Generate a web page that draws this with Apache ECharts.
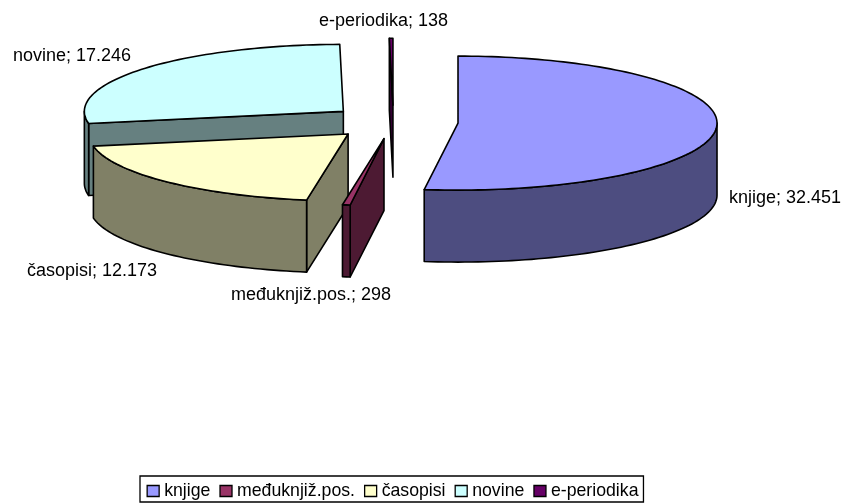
<!DOCTYPE html>
<html>
<head>
<meta charset="utf-8">
<style>html,body{margin:0;padding:0;background:#fff}#c{width:845px;height:503px}</style>
<script src="https://cdn.jsdelivr.net/npm/echarts@6/dist/echarts.min.js"></script>
</head>
<body>
<div id="c"></div>
<script>
// data
const categories = ['knjige', 'međuknjiž.pos.', 'časopisi', 'novine', 'e-periodika'];
const values = [32451, 298, 12173, 17246, 138];
// styles
const topColors = ['#9999FF', '#993366', '#FFFFCC', '#CCFFFF', '#660066'];
const sideColors = ['#4D4D80', '#4D1A33', '#808066', '#668080', '#330033'];
const paintOrder = [2, 4, 3, 0, 1]; // z rank per slice (back to front)
// layout
const CX = 393.4, CY = 122, RX = 259, RY = 67, DEPTH = 72, EXPLODE = 0.25;
const labelPos = [[729, 198], [231, 295], [27, 271], [13, 56], [319, 21]];
const FONT = '"Liberation Sans", Arial, sans-serif';
const FS = 18;
const LEGEND_FS = 17.7;

const total = values.reduce((a, b) => a + b, 0);
const fmt = v => String(v).replace(/\B(?=(\d{3})+$)/g, '.');
const rad = d => d * Math.PI / 180;

let acc = 0;
const slices = values.map(v => {
  const s = acc / total * 360; acc += v;
  return { s, e: acc / total * 360 };
});

function pt(ax, ay, deg, dy) {
  return [ax + RX * Math.sin(rad(deg)), ay - RY * Math.cos(rad(deg)) + (dy || 0)];
}
function arc(ax, ay, a, b, dy) {
  const n = Math.max(2, Math.ceil((b - a) / 1.5));
  const out = [];
  for (let i = 0; i <= n; i++) out.push(pt(ax, ay, a + (b - a) * i / n, dy));
  return out;
}

function render(idx) {
  return function (params, api) {
    const { s, e } = slices[idx];
    const m = (s + e) / 2;
    const ax = CX + EXPLODE * RX * Math.sin(rad(m));
    const ay = CY - EXPLODE * RY * Math.cos(rad(m));
    const stroke = { stroke: '#000', lineWidth: 1.6, lineJoin: 'round' };
    const side = Object.assign({ fill: sideColors[idx] }, stroke);
    const children = [];
    const wall = deg => {
      const p = pt(ax, ay, deg);
      return { type: 'polygon', shape: { points: [[ax, ay], p, [p[0], p[1] + DEPTH], [ax, ay + DEPTH]] }, style: side };
    };
    if (Math.sin(rad(s)) < -1e-6) children.push(wall(s));
    if (Math.sin(rad(e)) > 1e-6) children.push(wall(e));
    const a0 = Math.max(s, 90), b0 = Math.min(e, 270);
    if (b0 > a0) {
      const up = arc(ax, ay, a0, b0, 0);
      const low = arc(ax, ay, a0, b0, DEPTH).reverse();
      children.push({ type: 'polygon', shape: { points: up.concat(low) }, style: side });
    }
    children.push({
      type: 'polygon',
      shape: { points: [[ax, ay]].concat(arc(ax, ay, s, e, 0)) },
      style: Object.assign({ fill: topColors[idx] }, stroke)
    });
    children.push({
      type: 'text', x: labelPos[idx][0], y: labelPos[idx][1],
      style: {
        text: categories[idx] + '; ' + fmt(api.value(0)),
        fill: '#000', font: FS + 'px ' + FONT, textVerticalAlign: 'middle', textAlign: 'left'
      }
    });
    return { type: 'group', children };
  };
}

const chart = echarts.init(document.getElementById('c'), null, { renderer: 'canvas' });
chart.setOption({
  animation: false,
  backgroundColor: '#fff',
  legend: {
    left: 140, top: 476,
    orient: 'horizontal',
    data: categories.map(n => ({ name: n, icon: 'rect' })),
    selectedMode: false,
    itemWidth: 12, itemHeight: 11, itemGap: 9,
    padding: [6, 5, 2, 6.5],
    borderColor: '#000', borderWidth: 1.3,
    itemStyle: { borderColor: '#000', borderWidth: 1.3 },
    textStyle: { color: '#000', fontFamily: FONT, fontSize: LEGEND_FS }
  },
  series: categories.map((name, i) => ({
    type: 'custom',
    name,
    coordinateSystem: 'none',
    z: 2 + paintOrder[i],
    itemStyle: { color: topColors[i] },
    data: [[values[i]]],
    renderItem: render(i),
    silent: true
  }))
});
</script>
</body>
</html>
